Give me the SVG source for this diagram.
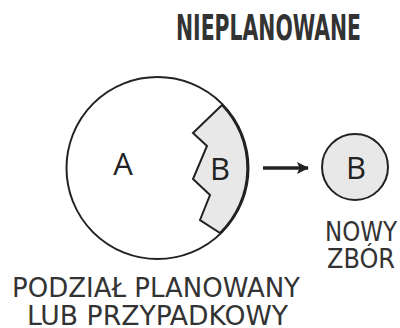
<svg xmlns="http://www.w3.org/2000/svg" width="400" height="328" viewBox="0 0 400 328">
<style>
.t{font-family:"DejaVu Sans Condensed","DejaVu Sans","Liberation Sans",sans-serif;fill:#333;}
.lbl{font-family:"Open Sans","Liberation Sans",sans-serif;fill:#222;font-size:31px;text-anchor:middle;}
.ln{stroke:#222;stroke-width:2;}
</style>
<defs>
<marker id="ah" markerWidth="12" markerHeight="12" refX="11" refY="6" orient="auto" markerUnits="userSpaceOnUse" viewBox="0 0 12 12">
<path d="M0,0 L12,6 L0,12 L2.5,6 Z" fill="#222"/>
</marker>
</defs>
<rect width="400" height="328" fill="#fff"/>
<text class="t" x="176" y="40" font-size="36" font-weight="bold" textLength="185" lengthAdjust="spacingAndGlyphs">NIEPLANOWANE</text>
<g id="setA">
<circle cx="157.5" cy="168" r="91" fill="#fff" class="ln"/>
<path d="M222,105 L193,133 L207,146 L193,179 L210,195 L200,220 L220,233 A91,91 0 0 0 222,105 Z" fill="#e8e8e8" class="ln" stroke-linejoin="miter"/>
<text class="lbl" x="123" y="175">A</text>
<text class="lbl" x="220" y="180">B</text>
</g>
<g id="connectors">
<line x1="263" y1="168" x2="308" y2="168" stroke="#222" stroke-width="3.5" marker-end="url(#ah)"/>
</g>
<g id="setB">
<circle cx="355" cy="167" r="33" fill="#e8e8e8" class="ln"/>
<text class="lbl" x="356" y="179">B</text>
</g>
<text class="t" x="361" y="241" font-size="27" text-anchor="middle" textLength="72" lengthAdjust="spacingAndGlyphs">NOWY</text>
<text class="t" x="361" y="268" font-size="27" text-anchor="middle" textLength="68" lengthAdjust="spacingAndGlyphs">ZBÓR</text>
<text class="t" x="12" y="297" font-size="27" textLength="288" lengthAdjust="spacingAndGlyphs">PODZIAŁ PLANOWANY</text>
<text class="t" x="27" y="325" font-size="27" textLength="261" lengthAdjust="spacingAndGlyphs">LUB PRZYPADKOWY</text>
</svg>
